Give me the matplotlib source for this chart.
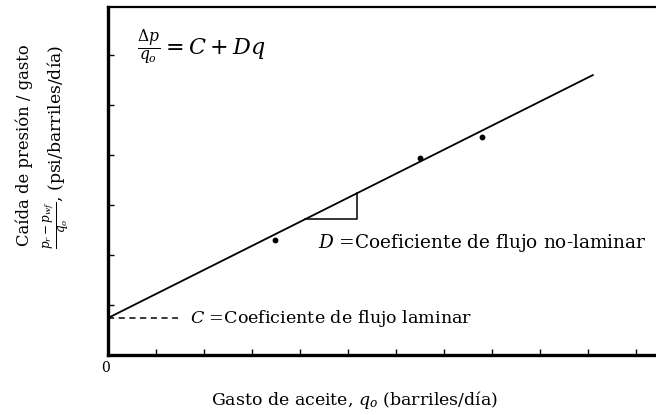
import matplotlib

matplotlib.use("Agg")

import matplotlib.pyplot as plt
import numpy as np

# Measured points (gasto, caida de presion / gasto)
rate = [3.48, 6.5, 7.79]
dp_over_q = [2.30, 3.94, 4.36]

# Straight-line fit: dp/q = C + D q
C = 0.74
D = 0.481
line_x = [0.0, 10.1]

# Slope triangle that marks D
tri_x0, tri_x1 = 4.1, 5.19

x_ticks = list(range(1, 12))
y_ticks = list(range(1, 7))

plt.rcParams.update(
    {
        "font.family": "DejaVu Serif",
        "mathtext.fontset": "dejavuserif",
    }
)

fig = plt.figure(figsize=(6.56, 4.15), dpi=100)
ax = fig.add_axes([108 / 656, 60 / 415, 548 / 656, 348 / 415])

ax.set_xlim(0, 548 / 48)
ax.set_ylim(0, 348 / 50)

fit_x = np.array(line_x)
ax.plot(fit_x, C + D * fit_x, color="black", lw=1.3)
ax.plot(rate, dp_over_q, "o", color="black", ms=3.2)

# slope triangle
y_base = C + D * tri_x0
y_top = C + D * tri_x1
ax.plot([tri_x0, tri_x1, tri_x1], [y_base, y_base, y_top], color="black", lw=1.1)

# intercept marker
ax.plot([0, 1.45], [C, C], color="black", lw=1.1, ls=(0, (4, 3)))

ax.text(1.7, C, r"$C$ =Coeficiente de flujo laminar", fontsize=12.6,
        va="center", ha="left")
ax.text(4.375, 2.24, r"$D$ =Coeficiente de flujo no-laminar", fontsize=13.3,
        va="center", ha="left")
ax.text(0.6, 6.15, r"$\frac{\Delta p}{q_o} = C + Dq$", fontsize=16,
        va="center", ha="left")

ax.set_xticks(x_ticks)
ax.set_yticks(y_ticks)
ax.set_xticklabels([])
ax.set_yticklabels([])
ax.tick_params(direction="in", length=4, width=1.0)

ax.spines["right"].set_visible(False)
ax.spines["left"].set_linewidth(2.4)
ax.spines["bottom"].set_linewidth(2.4)
ax.spines["top"].set_linewidth(1.6)

ax.text(-0.06, -0.26, "0", fontsize=10, ha="center", va="center")

fig.text(355 / 656, 1 - 400 / 415,
         r"Gasto de aceite, $q_o$ (barriles/día)", fontsize=12.5,
         ha="center", va="center")
fig.text(24 / 656, 1 - 145 / 415, "Caída de presión / gasto", fontsize=11.8,
         rotation=90, ha="center", va="center")
fig.text(57 / 656, 1 - 147 / 415,
         r"$\frac{p_r - p_{wf}}{q_o}$, (psi/barriles/día)", fontsize=12.4,
         rotation=90, ha="center", va="center")

fig.savefig("out.png", dpi=100)
